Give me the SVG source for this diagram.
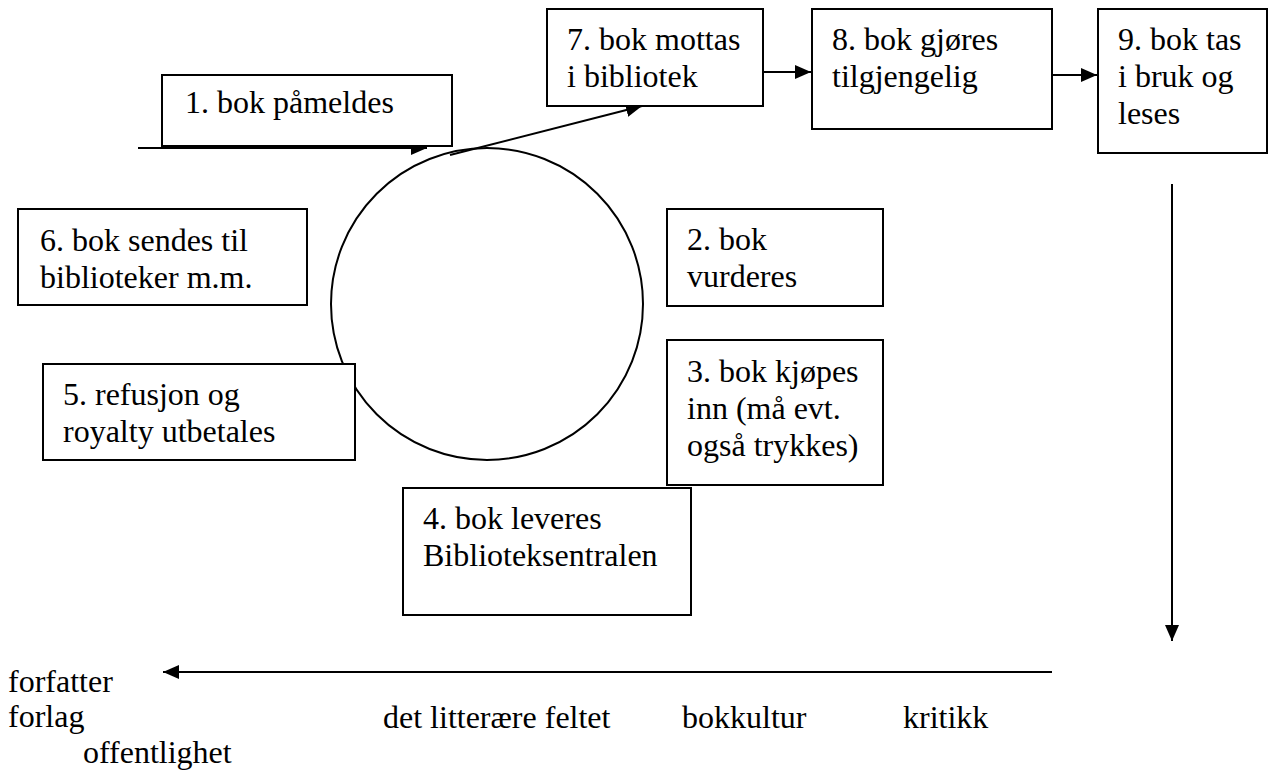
<svg xmlns="http://www.w3.org/2000/svg" width="1274" height="771" viewBox="0 0 1274 771" font-family="'Liberation Serif', 'Times New Roman', serif">
<defs>
<style>
.box{fill:#fff;stroke:#000;stroke-width:2}
.t{font-family:'Liberation Serif','Times New Roman',serif;font-size:32px;fill:#000}
.ln{stroke:#000;stroke-width:2;fill:none}
</style>
<marker id="ah" viewBox="0 0 16 14" refX="16" refY="7" markerWidth="16" markerHeight="14" markerUnits="userSpaceOnUse" orient="auto">
<path d="M0,0 L16,7 L0,14 Z" fill="#000"/>
</marker>
</defs>
<rect width="1274" height="771" fill="#fff"/>
<g id="connectors">
<line class="ln" x1="138" y1="148" x2="427" y2="148" marker-end="url(#ah)"/>
<line class="ln" x1="450" y1="155" x2="642" y2="106" marker-end="url(#ah)"/>
<line class="ln" x1="763" y1="72" x2="811" y2="72" marker-end="url(#ah)"/>
<line class="ln" x1="1052" y1="75" x2="1097" y2="75" marker-end="url(#ah)"/>
<line class="ln" x1="1172" y1="184" x2="1172" y2="641" marker-end="url(#ah)"/>
<line class="ln" x1="1052" y1="672" x2="163" y2="672" marker-end="url(#ah)"/>
</g>
<g id="cycle">
<circle class="ln" cx="487" cy="304" r="156"/>
</g>
<g id="n1"><rect class="box" x="162" y="75" width="290" height="71"/><text class="t" x="185" y="113">1. bok påmeldes</text></g>
<g id="n7"><rect class="box" x="547" y="9" width="216" height="97"/><text class="t" x="567" y="50">7. bok mottas</text><text class="t" x="567" y="87">i bibliotek</text></g>
<g id="n8"><rect class="box" x="812" y="9" width="240" height="120"/><text class="t" x="832" y="50">8. bok gjøres</text><text class="t" x="832" y="87">tilgjengelig</text></g>
<g id="n9"><rect class="box" x="1098" y="9" width="169" height="144"/><text class="t" x="1118" y="50">9. bok tas</text><text class="t" x="1118" y="87">i bruk og</text><text class="t" x="1118" y="124">leses</text></g>
<g id="n6"><rect class="box" x="18" y="209" width="289" height="96"/><text class="t" x="40" y="251">6. bok sendes til</text><text class="t" x="40" y="288">biblioteker m.m.</text></g>
<g id="n2"><rect class="box" x="667" y="209" width="216" height="97"/><text class="t" x="687" y="250">2. bok</text><text class="t" x="687" y="287">vurderes</text></g>
<g id="n3"><rect class="box" x="667" y="340" width="216" height="145"/><text class="t" x="687" y="382">3. bok kjøpes</text><text class="t" x="687" y="419">inn (må evt.</text><text class="t" x="687" y="456">også trykkes)</text></g>
<g id="n5"><rect class="box" x="43" y="364" width="312" height="96"/><text class="t" x="63" y="405">5. refusjon og</text><text class="t" x="63" y="442">royalty utbetales</text></g>
<g id="n4"><rect class="box" x="403" y="488" width="288" height="127"/><text class="t" x="423" y="529">4. bok leveres</text><text class="t" x="423" y="566">Biblioteksentralen</text></g>
<g id="labels">
<text class="t" x="8" y="692">forfatter</text>
<text class="t" x="8" y="727">forlag</text>
<text class="t" x="83" y="763">offentlighet</text>
<text class="t" x="383" y="728">det litterære feltet</text>
<text class="t" x="682" y="728">bokkultur</text>
<text class="t" x="903" y="728">kritikk</text>
</g>
</svg>
